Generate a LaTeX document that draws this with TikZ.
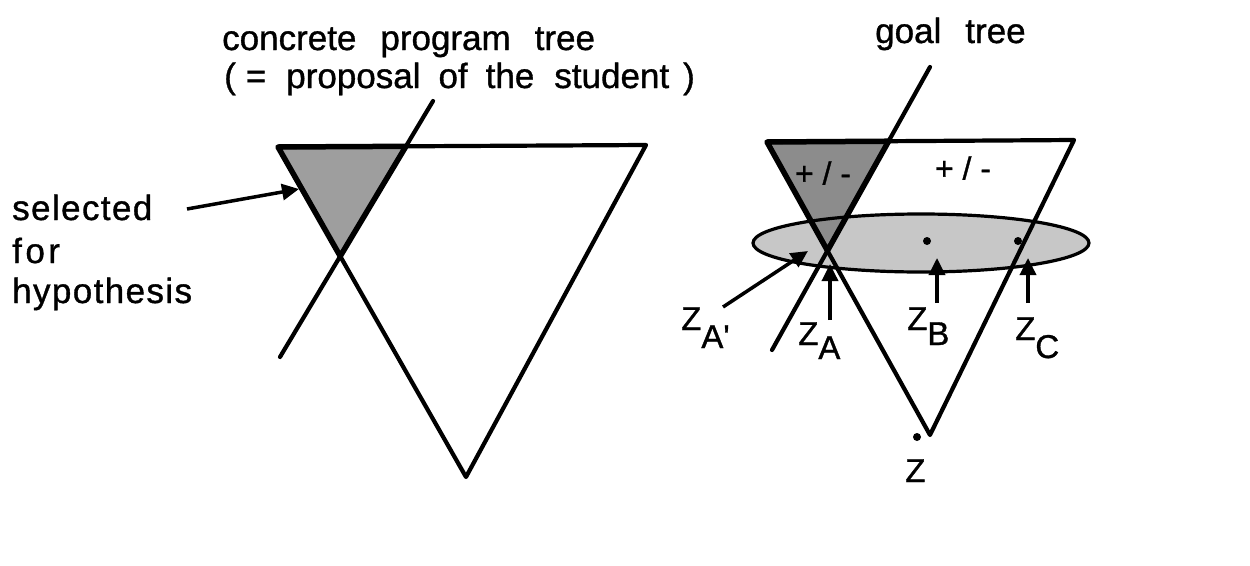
\documentclass[tikz,border=0pt]{standalone}
\usepackage{fontspec}
\setmainfont{Liberation Sans}[FakeBold=1]
\newfontfamily\spacedfont{Liberation Sans}[LetterSpace=4,FakeBold=1]
\newfontfamily\widefont{Liberation Sans}[LetterSpace=10,FakeBold=1]
\usetikzlibrary{arrows.meta}
\begin{document}
\begin{tikzpicture}[x=1pt,y=-1pt,
  ln/.style={line width=4.2pt, line cap=round, line join=round},
  shb/.style={line width=5.5pt, line join=round},
  arr/.style={line width=3.5pt, -{Triangle[length=17pt,width=16pt]}},
  txt/.style={font=\fontsize{35}{40}\selectfont, inner sep=0pt, anchor=base west},
  lab/.style={font=\fontsize{33}{37}\selectfont, inner sep=0pt, anchor=base west},
  pm/.style={font=\fontsize{32}{36}\selectfont, inner sep=0pt},
  dotf/.style={fill=black}
]
\useasboundingbox[fill=white] (0,0) rectangle (1250,565);
% ---------- left diagram ----------
\coordinate (L1) at (278,147);
\coordinate (L2) at (646,145);
\coordinate (L3) at (466,477);
\coordinate (P1) at (433,101);
\coordinate (P2) at (280,357);
\coordinate (S2) at (intersection of L1--L2 and P1--P2);
\coordinate (S3) at (intersection of L1--L3 and P1--P2);
\fill[black!38] (L1) -- (S2) -- (S3) -- cycle;
\draw[ln] (L1) -- (L2) -- (L3) -- cycle;
\draw[ln] (P1) -- (P2);
\draw[shb] (L1) -- (S2) -- (S3) -- cycle;
% ---------- right diagram ----------
\coordinate (R1) at (767,142);
\coordinate (R2) at (1074,140);
\coordinate (R3) at (930,435);
\coordinate (G1) at (930,67);
\coordinate (G2) at (772,350);
\coordinate (T2) at (intersection of R1--R2 and G1--G2);
\coordinate (T3) at (intersection of R1--R3 and G1--G2);
\coordinate (E) at (921,243);
\fill[black!22] (E) ellipse [x radius=168, y radius=29];
\fill[black!45] (R1) -- (T2) -- (T3) -- cycle;
\draw[line width=3.2pt] (E) ellipse [x radius=168, y radius=29];
\draw[ln] (R1) -- (R2) -- (R3) -- cycle;
\draw[ln] (G1) -- (G2);
\draw[shb] (R1) -- (T2) -- (T3) -- cycle;
\node[pm] (pm1) at (823,173) {+ / -};
\node[pm] (pm2) at (963,168) {+ / -};
\fill[dotf] (927,241) circle (4);
\fill[dotf] (1018,241) circle (4);
\fill[dotf] (917,437) circle (4);
% ---------- arrows ----------
\coordinate (a1s) at (187,209);
\coordinate (a1e) at (299,189);
\draw[arr] (a1s) -- (a1e);
\coordinate (aAps) at (723,307);
\coordinate (aApe) at (808,251);
\draw[arr] (aAps) -- (aApe);
\coordinate (aAs) at (830,320);
\coordinate (aAe) at (830,264);
\draw[arr] (aAs) -- (aAe);
\coordinate (aBs) at (937,303);
\coordinate (aBe) at (937,258);
\draw[arr] (aBs) -- (aBe);
\coordinate (aCs) at (1028,303);
\coordinate (aCe) at (1028,258);
\draw[arr] (aCs) -- (aCe);
% ---------- texts ----------
\node[txt] (t1) at (222,50) {concrete\hspace{24pt}program\hspace{24pt}tree};
\node[txt] (t2) at (224,88) {(\hspace{10pt}=\hspace{20pt}proposal\hspace{18pt}of\hspace{18pt}the\hspace{20pt}student\hspace{14pt})};
\node[txt] (t3) at (875,43) {goal\hspace{24pt}tree};
\node[txt, font=\fontsize{35}{40}\spacedfont] (s1) at (12,220) {selected};
\node[txt, font=\fontsize{35}{40}\widefont] (s2) at (12,263) {for};
\node[txt, font=\fontsize{35}{40}\spacedfont] (s3) at (12,303) {hypothesis};
\node[lab] (zAp) at (681,330) {Z\raisebox{-18pt}{A\textquotesingle}};
\node[lab] (zA) at (798,345) {Z\raisebox{-14pt}{A}};
\node[lab] (zB) at (907,330) {Z\raisebox{-15pt}{B}};
\node[lab] (zC) at (1015,340) {Z\raisebox{-18pt}{C}};
\node[lab] (z) at (905,482) {Z};
\end{tikzpicture}
\end{document}
